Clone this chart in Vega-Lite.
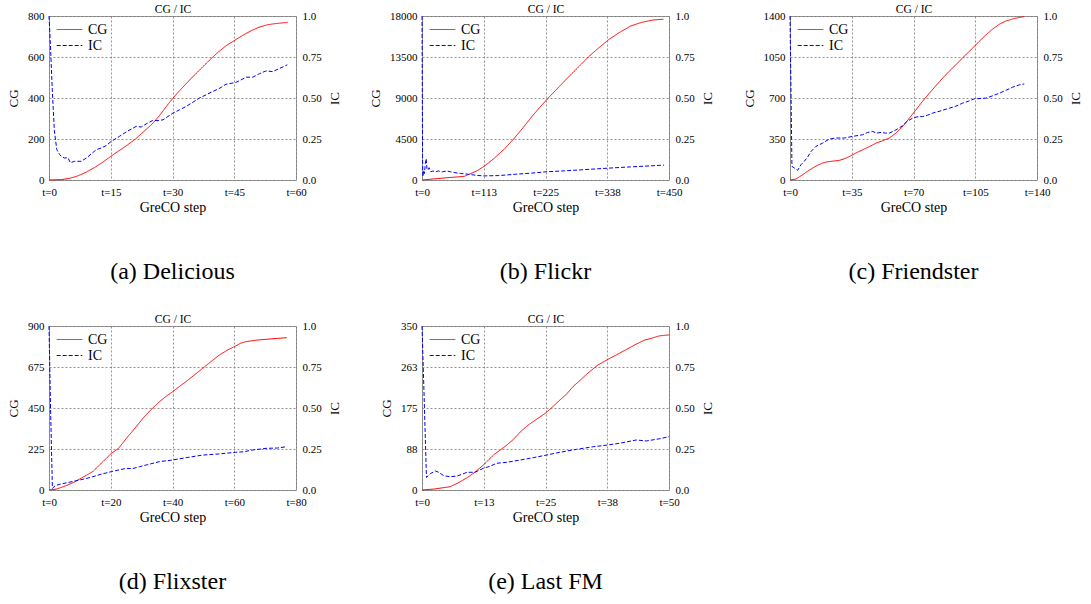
{
"$schema": "https://vega.github.io/schema/vega-lite/v6.json",
"padding": {"left": 7, "top": 2, "right": 2, "bottom": 2},
"background": "white",
"config": {
  "font": "Liberation Serif",
  "view": {"stroke": "#999999", "strokeWidth": 1},
  "axis": {"labelFont": "Liberation Serif", "titleFont": "Liberation Serif", "labelFontSize": 11, "titleFontSize": 13, "titleFontWeight": "normal", "labelColor": "#000000", "titleColor": "#000000", "ticks": false, "domain": false, "gridColor": "#777777", "gridDash": [2, 2], "gridWidth": 0.8, "labelFlush": false, "labelOverlap": false, "labelPadding": 5},
  "axisRight": {"titleAngle": 270, "titleBaseline": "top"},
  "title": {"font": "Liberation Serif", "fontSize": 24, "fontWeight": "normal", "color": "#000000", "orient": "bottom", "anchor": "middle", "offset": 46},
  "legend": {"title": null, "orient": "top-left", "offset": 5, "padding": 0, "symbolType": "M-1.6,0H1.6", "symbolSize": 256, "symbolOffset": 7, "symbolStrokeWidth": 1, "labelFont": "Liberation Serif", "labelFontSize": 14, "labelColor": "#000000", "labelOffset": 10, "rowPadding": 0}
},
"datasets": {
  "a": [
    {"t":0,"s":"CG","v":0},{"t":3,"s":"CG","v":2},{"t":5,"s":"CG","v":8},{"t":7,"s":"CG","v":20},{"t":9,"s":"CG","v":38},{"t":11,"s":"CG","v":60},{"t":13,"s":"CG","v":86},{"t":15,"s":"CG","v":115},{"t":17,"s":"CG","v":143},{"t":19,"s":"CG","v":170},{"t":21,"s":"CG","v":200},{"t":23,"s":"CG","v":236},{"t":25,"s":"CG","v":272},{"t":27,"s":"CG","v":318},{"t":29,"s":"CG","v":372},{"t":31,"s":"CG","v":420},{"t":33,"s":"CG","v":463},{"t":35,"s":"CG","v":505},{"t":37,"s":"CG","v":545},{"t":39,"s":"CG","v":585},{"t":41,"s":"CG","v":622},{"t":43,"s":"CG","v":655},{"t":45,"s":"CG","v":680},{"t":47,"s":"CG","v":705},{"t":49,"s":"CG","v":727},{"t":51,"s":"CG","v":745},{"t":53,"s":"CG","v":757},{"t":55,"s":"CG","v":763},{"t":57,"s":"CG","v":767},{"t":58,"s":"CG","v":769},
    {"t":0,"s":"IC","v":1.0},{"t":0.3,"s":"IC","v":0.85},{"t":0.8,"s":"IC","v":0.55},{"t":1.3,"s":"IC","v":0.3},{"t":1.9,"s":"IC","v":0.185},{"t":2.6,"s":"IC","v":0.154},{"t":3.2,"s":"IC","v":0.14},{"t":3.8,"s":"IC","v":0.134},{"t":4.6,"s":"IC","v":0.136},{"t":5.2,"s":"IC","v":0.105},{"t":6.2,"s":"IC","v":0.114},{"t":7.8,"s":"IC","v":0.114},{"t":9.1,"s":"IC","v":0.134},{"t":10.3,"s":"IC","v":0.16},{"t":11.5,"s":"IC","v":0.185},{"t":12.7,"s":"IC","v":0.195},{"t":13.9,"s":"IC","v":0.21},{"t":15.1,"s":"IC","v":0.235},{"t":17.1,"s":"IC","v":0.266},{"t":19.2,"s":"IC","v":0.3},{"t":21.2,"s":"IC","v":0.327},{"t":22.4,"s":"IC","v":0.323},{"t":23.8,"s":"IC","v":0.345},{"t":25.2,"s":"IC","v":0.363},{"t":26.5,"s":"IC","v":0.362},{"t":27.7,"s":"IC","v":0.367},{"t":30.1,"s":"IC","v":0.408},{"t":31.7,"s":"IC","v":0.428},{"t":33.3,"s":"IC","v":0.448},{"t":35,"s":"IC","v":0.475},{"t":36.5,"s":"IC","v":0.499},{"t":38.2,"s":"IC","v":0.52},{"t":39.8,"s":"IC","v":0.54},{"t":41.5,"s":"IC","v":0.56},{"t":43,"s":"IC","v":0.584},{"t":45.3,"s":"IC","v":0.594},{"t":46.6,"s":"IC","v":0.61},{"t":47.9,"s":"IC","v":0.627},{"t":49.5,"s":"IC","v":0.627},{"t":51.1,"s":"IC","v":0.648},{"t":52.7,"s":"IC","v":0.665},{"t":54.3,"s":"IC","v":0.661},{"t":56,"s":"IC","v":0.68},{"t":57.9,"s":"IC","v":0.702}
  ],
  "b": [
    {"t":0,"s":"CG","v":0},{"t":40,"s":"CG","v":220},{"t":77,"s":"CG","v":400},{"t":100,"s":"CG","v":1000},{"t":113,"s":"CG","v":1500},{"t":130,"s":"CG","v":2300},{"t":150,"s":"CG","v":3400},{"t":167,"s":"CG","v":4500},{"t":185,"s":"CG","v":5800},{"t":200,"s":"CG","v":6950},{"t":215,"s":"CG","v":8000},{"t":230,"s":"CG","v":9000},{"t":250,"s":"CG","v":10250},{"t":270,"s":"CG","v":11500},{"t":290,"s":"CG","v":12700},{"t":303,"s":"CG","v":13500},{"t":320,"s":"CG","v":14400},{"t":340,"s":"CG","v":15400},{"t":360,"s":"CG","v":16200},{"t":380,"s":"CG","v":16900},{"t":400,"s":"CG","v":17300},{"t":420,"s":"CG","v":17550},{"t":440,"s":"CG","v":17650},
    {"t":0,"s":"IC","v":1.0},{"t":0.5,"s":"IC","v":0.6},{"t":1,"s":"IC","v":0.15},{"t":1.5,"s":"IC","v":0.02},{"t":3,"s":"IC","v":0.06},{"t":4.5,"s":"IC","v":0.04},{"t":6,"s":"IC","v":0.1},{"t":7.5,"s":"IC","v":0.13},{"t":9,"s":"IC","v":0.07},{"t":11,"s":"IC","v":0.06},{"t":13,"s":"IC","v":0.075},{"t":16,"s":"IC","v":0.05},{"t":20,"s":"IC","v":0.055},{"t":25,"s":"IC","v":0.05},{"t":30,"s":"IC","v":0.055},{"t":37,"s":"IC","v":0.05},{"t":45,"s":"IC","v":0.055},{"t":52,"s":"IC","v":0.05},{"t":60,"s":"IC","v":0.045},{"t":70,"s":"IC","v":0.04},{"t":85,"s":"IC","v":0.035},{"t":100,"s":"IC","v":0.028},{"t":113,"s":"IC","v":0.025},{"t":140,"s":"IC","v":0.027},{"t":170,"s":"IC","v":0.035},{"t":200,"s":"IC","v":0.042},{"t":226,"s":"IC","v":0.05},{"t":260,"s":"IC","v":0.056},{"t":290,"s":"IC","v":0.062},{"t":338,"s":"IC","v":0.072},{"t":380,"s":"IC","v":0.08},{"t":410,"s":"IC","v":0.085},{"t":441,"s":"IC","v":0.091}
  ],
  "c": [
    {"t":0,"s":"CG","v":0},{"t":3.4,"s":"CG","v":8},{"t":7.2,"s":"CG","v":45},{"t":10,"s":"CG","v":75},{"t":12.8,"s":"CG","v":102},{"t":15.5,"s":"CG","v":125},{"t":18.5,"s":"CG","v":145},{"t":21,"s":"CG","v":155},{"t":23.2,"s":"CG","v":159},{"t":28,"s":"CG","v":168},{"t":31,"s":"CG","v":182},{"t":33.6,"s":"CG","v":200},{"t":37,"s":"CG","v":228},{"t":41.2,"s":"CG","v":258},{"t":45,"s":"CG","v":285},{"t":48.8,"s":"CG","v":315},{"t":52.5,"s":"CG","v":335},{"t":56.3,"s":"CG","v":358},{"t":60,"s":"CG","v":400},{"t":63.9,"s":"CG","v":457},{"t":67.5,"s":"CG","v":525},{"t":71.4,"s":"CG","v":599},{"t":75,"s":"CG","v":670},{"t":79,"s":"CG","v":741},{"t":83,"s":"CG","v":810},{"t":86.5,"s":"CG","v":869},{"t":90,"s":"CG","v":925},{"t":94,"s":"CG","v":983},{"t":98,"s":"CG","v":1045},{"t":103.5,"s":"CG","v":1125},{"t":107,"s":"CG","v":1180},{"t":111,"s":"CG","v":1238},{"t":115,"s":"CG","v":1290},{"t":118.6,"s":"CG","v":1329},{"t":122,"s":"CG","v":1355},{"t":126.2,"s":"CG","v":1375},{"t":130,"s":"CG","v":1388},{"t":132.8,"s":"CG","v":1395},
    {"t":0,"s":"IC","v":1.0},{"t":0.5,"s":"IC","v":0.6},{"t":1.1,"s":"IC","v":0.083},{"t":2.5,"s":"IC","v":0.073},{"t":4.3,"s":"IC","v":0.059},{"t":6.2,"s":"IC","v":0.093},{"t":8.1,"s":"IC","v":0.114},{"t":10,"s":"IC","v":0.14},{"t":11.9,"s":"IC","v":0.174},{"t":14.7,"s":"IC","v":0.205},{"t":18.5,"s":"IC","v":0.225},{"t":22.3,"s":"IC","v":0.25},{"t":26,"s":"IC","v":0.256},{"t":30.8,"s":"IC","v":0.256},{"t":35.5,"s":"IC","v":0.266},{"t":41.2,"s":"IC","v":0.276},{"t":44,"s":"IC","v":0.29},{"t":46.9,"s":"IC","v":0.296},{"t":49,"s":"IC","v":0.286},{"t":51.6,"s":"IC","v":0.29},{"t":54,"s":"IC","v":0.286},{"t":56.3,"s":"IC","v":0.286},{"t":60,"s":"IC","v":0.305},{"t":63.9,"s":"IC","v":0.331},{"t":66,"s":"IC","v":0.355},{"t":69.5,"s":"IC","v":0.377},{"t":72,"s":"IC","v":0.385},{"t":75.2,"s":"IC","v":0.387},{"t":78,"s":"IC","v":0.395},{"t":80.9,"s":"IC","v":0.408},{"t":85,"s":"IC","v":0.42},{"t":90.3,"s":"IC","v":0.438},{"t":94,"s":"IC","v":0.45},{"t":97.9,"s":"IC","v":0.469},{"t":101,"s":"IC","v":0.48},{"t":104.5,"s":"IC","v":0.495},{"t":111,"s":"IC","v":0.499},{"t":114,"s":"IC","v":0.51},{"t":118.6,"s":"IC","v":0.529},{"t":122,"s":"IC","v":0.545},{"t":126.2,"s":"IC","v":0.566},{"t":130,"s":"IC","v":0.58},{"t":132.8,"s":"IC","v":0.586}
  ],
  "d": [
    {"t":0,"s":"CG","v":0},{"t":2.4,"s":"CG","v":5},{"t":5.6,"s":"CG","v":24},{"t":8,"s":"CG","v":42},{"t":9.9,"s":"CG","v":60},{"t":12,"s":"CG","v":80},{"t":14.2,"s":"CG","v":101},{"t":17,"s":"CG","v":148},{"t":20.2,"s":"CG","v":201},{"t":22.5,"s":"CG","v":228},{"t":25,"s":"CG","v":282},{"t":27.5,"s":"CG","v":332},{"t":30.4,"s":"CG","v":393},{"t":33,"s":"CG","v":440},{"t":35.8,"s":"CG","v":485},{"t":38,"s":"CG","v":515},{"t":40.1,"s":"CG","v":540},{"t":42,"s":"CG","v":565},{"t":44.4,"s":"CG","v":595},{"t":47,"s":"CG","v":630},{"t":49.8,"s":"CG","v":668},{"t":52.5,"s":"CG","v":705},{"t":55.2,"s":"CG","v":741},{"t":58,"s":"CG","v":770},{"t":60.4,"s":"CG","v":790},{"t":62,"s":"CG","v":805},{"t":63.8,"s":"CG","v":814},{"t":67,"s":"CG","v":822},{"t":70.3,"s":"CG","v":827},{"t":74,"s":"CG","v":832},{"t":77,"s":"CG","v":836},
    {"t":0,"s":"IC","v":1.0},{"t":0.5,"s":"IC","v":0.5},{"t":1.1,"s":"IC","v":0.01},{"t":2,"s":"IC","v":0.026},{"t":3.5,"s":"IC","v":0.035},{"t":6,"s":"IC","v":0.045},{"t":9.9,"s":"IC","v":0.061},{"t":12,"s":"IC","v":0.07},{"t":14.2,"s":"IC","v":0.081},{"t":17,"s":"IC","v":0.097},{"t":20.2,"s":"IC","v":0.112},{"t":23,"s":"IC","v":0.124},{"t":25,"s":"IC","v":0.132},{"t":27,"s":"IC","v":0.13},{"t":29.3,"s":"IC","v":0.142},{"t":32,"s":"IC","v":0.155},{"t":35.8,"s":"IC","v":0.173},{"t":40.1,"s":"IC","v":0.183},{"t":44.4,"s":"IC","v":0.197},{"t":49.8,"s":"IC","v":0.213},{"t":55.2,"s":"IC","v":0.22},{"t":60.4,"s":"IC","v":0.23},{"t":63,"s":"IC","v":0.233},{"t":66,"s":"IC","v":0.244},{"t":70.3,"s":"IC","v":0.254},{"t":74,"s":"IC","v":0.256},{"t":77,"s":"IC","v":0.264}
  ],
  "e": [
    {"t":0,"s":"CG","v":0},{"t":2.4,"s":"CG","v":2},{"t":4.4,"s":"CG","v":5},{"t":5.7,"s":"CG","v":7},{"t":7.1,"s":"CG","v":14},{"t":9.1,"s":"CG","v":26},{"t":10.7,"s":"CG","v":38},{"t":12.4,"s":"CG","v":53},{"t":14.5,"s":"CG","v":75},{"t":15.8,"s":"CG","v":85},{"t":17.2,"s":"CG","v":96},{"t":18.5,"s":"CG","v":108},{"t":19.9,"s":"CG","v":124},{"t":21.2,"s":"CG","v":136},{"t":22.5,"s":"CG","v":146},{"t":25,"s":"CG","v":164},{"t":26.5,"s":"CG","v":178},{"t":27.9,"s":"CG","v":192},{"t":29.2,"s":"CG","v":204},{"t":30.6,"s":"CG","v":221},{"t":32,"s":"CG","v":234},{"t":33.3,"s":"CG","v":247},{"t":35.5,"s":"CG","v":266},{"t":37.5,"s":"CG","v":278},{"t":40,"s":"CG","v":292},{"t":42.1,"s":"CG","v":304},{"t":43.5,"s":"CG","v":312},{"t":45.1,"s":"CG","v":320},{"t":46.5,"s":"CG","v":324},{"t":48.1,"s":"CG","v":329},{"t":50,"s":"CG","v":331},
    {"t":0,"s":"IC","v":1.0},{"t":0.4,"s":"IC","v":0.6},{"t":0.9,"s":"IC","v":0.077},{"t":1.7,"s":"IC","v":0.1},{"t":2.7,"s":"IC","v":0.116},{"t":3.4,"s":"IC","v":0.108},{"t":4.4,"s":"IC","v":0.087},{"t":5.7,"s":"IC","v":0.081},{"t":7.1,"s":"IC","v":0.085},{"t":8.2,"s":"IC","v":0.097},{"t":9.1,"s":"IC","v":0.108},{"t":10.7,"s":"IC","v":0.108},{"t":12.4,"s":"IC","v":0.132},{"t":13.8,"s":"IC","v":0.145},{"t":15.1,"s":"IC","v":0.163},{"t":17.2,"s":"IC","v":0.169},{"t":19.9,"s":"IC","v":0.183},{"t":22.5,"s":"IC","v":0.197},{"t":25.2,"s":"IC","v":0.213},{"t":27.9,"s":"IC","v":0.23},{"t":31.3,"s":"IC","v":0.248},{"t":34.7,"s":"IC","v":0.264},{"t":37.5,"s":"IC","v":0.274},{"t":40,"s":"IC","v":0.285},{"t":43.4,"s":"IC","v":0.305},{"t":45.4,"s":"IC","v":0.299},{"t":48,"s":"IC","v":0.312},{"t":50,"s":"IC","v":0.325}
  ]
},
"columns": 3,
"spacing": {"row": 27, "column": 27},
"resolve": {"scale": {"color": "independent", "strokeDash": "independent"}},
"concat": [
  {
    "title": {"text": "(a) Delicious"},
    "width": 247, "height": 164,
    "data": {"name": "a"},
    "layer": [
      {"transform": [{"filter": "datum.s == 'CG'"}], "mark": {"type": "line", "strokeWidth": 1},
       "encoding": {
        "x": {"field": "t", "type": "quantitative", "scale": {"domain": [0, 60], "nice": false}, "axis": {"values": [0, 15, 30, 45, 60], "title": "GreCO step", "labelExpr": "'t=' + round(datum.value)", "grid": true, "titleFontSize": 14, "titlePadding": 3, "labelPadding": 6}},
        "y": {"field": "v", "type": "quantitative", "scale": {"domain": [0, 800], "nice": false}, "axis": {"values": [0, 200, 400, 600, 800], "title": "CG", "labelExpr": "'' + round(datum.value)", "grid": true, "titlePadding": 7}},
        "color": {"field": "s", "type": "nominal", "scale": {"domain": ["CG", "IC"], "range": ["#ff0000", "#0000ff"]}},
        "strokeDash": {"field": "s", "type": "nominal", "scale": {"domain": ["CG", "IC"], "range": [[1, 0], [4, 2]]}}
       }},
      {"transform": [{"filter": "datum.s == 'IC'"}], "mark": {"type": "line", "strokeWidth": 1},
       "encoding": {
        "x": {"field": "t", "type": "quantitative", "scale": {"domain": [0, 60], "nice": false}, "axis": {"orient": "top", "title": "CG / IC", "labels": false, "grid": false, "titleFontSize": 11.5, "titlePadding": 2}},
        "y": {"field": "v", "type": "quantitative", "scale": {"domain": [0, 1], "nice": false}, "axis": {"orient": "right", "values": [0, 0.25, 0.5, 0.75, 1], "title": "IC", "grid": false, "labelExpr": "datum.value == 0 ? '0.0' : datum.value == 1 ? '1.0' : format(datum.value, '.2f')", "titlePadding": 7, "labelPadding": 6}},
        "color": {"field": "s", "type": "nominal", "scale": {"domain": ["CG", "IC"], "range": ["#ff0000", "#0000ff"]}},
        "strokeDash": {"field": "s", "type": "nominal", "scale": {"domain": ["CG", "IC"], "range": [[1, 0], [4, 2]]}}
       }}
    ],
    "resolve": {"scale": {"x": "independent", "y": "independent"}}
  },
  {
    "title": {"text": "(b) Flickr"},
    "width": 247, "height": 164,
    "data": {"name": "b"},
    "layer": [
      {"transform": [{"filter": "datum.s == 'CG'"}], "mark": {"type": "line", "strokeWidth": 1},
       "encoding": {
        "x": {"field": "t", "type": "quantitative", "scale": {"domain": [0, 450], "nice": false}, "axis": {"values": [0, 112.5, 225, 337.5, 450], "title": "GreCO step", "labelExpr": "'t=' + round(datum.value)", "grid": true, "titleFontSize": 14, "titlePadding": 3, "labelPadding": 6}},
        "y": {"field": "v", "type": "quantitative", "scale": {"domain": [0, 18000], "nice": false}, "axis": {"values": [0, 4500, 9000, 13500, 18000], "title": "CG", "labelExpr": "'' + round(datum.value)", "grid": true, "titlePadding": 7}},
        "color": {"field": "s", "type": "nominal", "scale": {"domain": ["CG", "IC"], "range": ["#ff0000", "#0000ff"]}},
        "strokeDash": {"field": "s", "type": "nominal", "scale": {"domain": ["CG", "IC"], "range": [[1, 0], [4, 2]]}}
       }},
      {"transform": [{"filter": "datum.s == 'IC'"}], "mark": {"type": "line", "strokeWidth": 1},
       "encoding": {
        "x": {"field": "t", "type": "quantitative", "scale": {"domain": [0, 450], "nice": false}, "axis": {"orient": "top", "title": "CG / IC", "labels": false, "grid": false, "titleFontSize": 11.5, "titlePadding": 2}},
        "y": {"field": "v", "type": "quantitative", "scale": {"domain": [0, 1], "nice": false}, "axis": {"orient": "right", "values": [0, 0.25, 0.5, 0.75, 1], "title": "IC", "grid": false, "labelExpr": "datum.value == 0 ? '0.0' : datum.value == 1 ? '1.0' : format(datum.value, '.2f')", "titlePadding": 7, "labelPadding": 6}},
        "color": {"field": "s", "type": "nominal", "scale": {"domain": ["CG", "IC"], "range": ["#ff0000", "#0000ff"]}},
        "strokeDash": {"field": "s", "type": "nominal", "scale": {"domain": ["CG", "IC"], "range": [[1, 0], [4, 2]]}}
       }}
    ],
    "resolve": {"scale": {"x": "independent", "y": "independent"}}
  },
  {
    "title": {"text": "(c) Friendster"},
    "width": 247, "height": 164,
    "data": {"name": "c"},
    "layer": [
      {"transform": [{"filter": "datum.s == 'CG'"}], "mark": {"type": "line", "strokeWidth": 1},
       "encoding": {
        "x": {"field": "t", "type": "quantitative", "scale": {"domain": [0, 140], "nice": false}, "axis": {"values": [0, 35, 70, 105, 140], "title": "GreCO step", "labelExpr": "'t=' + round(datum.value)", "grid": true, "titleFontSize": 14, "titlePadding": 3, "labelPadding": 6}},
        "y": {"field": "v", "type": "quantitative", "scale": {"domain": [0, 1400], "nice": false}, "axis": {"values": [0, 350, 700, 1050, 1400], "title": "CG", "labelExpr": "'' + round(datum.value)", "grid": true, "titlePadding": 7}},
        "color": {"field": "s", "type": "nominal", "scale": {"domain": ["CG", "IC"], "range": ["#ff0000", "#0000ff"]}},
        "strokeDash": {"field": "s", "type": "nominal", "scale": {"domain": ["CG", "IC"], "range": [[1, 0], [4, 2]]}}
       }},
      {"transform": [{"filter": "datum.s == 'IC'"}], "mark": {"type": "line", "strokeWidth": 1},
       "encoding": {
        "x": {"field": "t", "type": "quantitative", "scale": {"domain": [0, 140], "nice": false}, "axis": {"orient": "top", "title": "CG / IC", "labels": false, "grid": false, "titleFontSize": 11.5, "titlePadding": 2}},
        "y": {"field": "v", "type": "quantitative", "scale": {"domain": [0, 1], "nice": false}, "axis": {"orient": "right", "values": [0, 0.25, 0.5, 0.75, 1], "title": "IC", "grid": false, "labelExpr": "datum.value == 0 ? '0.0' : datum.value == 1 ? '1.0' : format(datum.value, '.2f')", "titlePadding": 7, "labelPadding": 6}},
        "color": {"field": "s", "type": "nominal", "scale": {"domain": ["CG", "IC"], "range": ["#ff0000", "#0000ff"]}},
        "strokeDash": {"field": "s", "type": "nominal", "scale": {"domain": ["CG", "IC"], "range": [[1, 0], [4, 2]]}}
       }}
    ],
    "resolve": {"scale": {"x": "independent", "y": "independent"}}
  },
  {
    "title": {"text": "(d) Flixster"},
    "width": 247, "height": 164,
    "data": {"name": "d"},
    "layer": [
      {"transform": [{"filter": "datum.s == 'CG'"}], "mark": {"type": "line", "strokeWidth": 1},
       "encoding": {
        "x": {"field": "t", "type": "quantitative", "scale": {"domain": [0, 80], "nice": false}, "axis": {"values": [0, 20, 40, 60, 80], "title": "GreCO step", "labelExpr": "'t=' + round(datum.value)", "grid": true, "titleFontSize": 14, "titlePadding": 3, "labelPadding": 6}},
        "y": {"field": "v", "type": "quantitative", "scale": {"domain": [0, 900], "nice": false}, "axis": {"values": [0, 225, 450, 675, 900], "title": "CG", "labelExpr": "'' + round(datum.value)", "grid": true, "titlePadding": 7}},
        "color": {"field": "s", "type": "nominal", "scale": {"domain": ["CG", "IC"], "range": ["#ff0000", "#0000ff"]}},
        "strokeDash": {"field": "s", "type": "nominal", "scale": {"domain": ["CG", "IC"], "range": [[1, 0], [4, 2]]}}
       }},
      {"transform": [{"filter": "datum.s == 'IC'"}], "mark": {"type": "line", "strokeWidth": 1},
       "encoding": {
        "x": {"field": "t", "type": "quantitative", "scale": {"domain": [0, 80], "nice": false}, "axis": {"orient": "top", "title": "CG / IC", "labels": false, "grid": false, "titleFontSize": 11.5, "titlePadding": 2}},
        "y": {"field": "v", "type": "quantitative", "scale": {"domain": [0, 1], "nice": false}, "axis": {"orient": "right", "values": [0, 0.25, 0.5, 0.75, 1], "title": "IC", "grid": false, "labelExpr": "datum.value == 0 ? '0.0' : datum.value == 1 ? '1.0' : format(datum.value, '.2f')", "titlePadding": 7, "labelPadding": 6}},
        "color": {"field": "s", "type": "nominal", "scale": {"domain": ["CG", "IC"], "range": ["#ff0000", "#0000ff"]}},
        "strokeDash": {"field": "s", "type": "nominal", "scale": {"domain": ["CG", "IC"], "range": [[1, 0], [4, 2]]}}
       }}
    ],
    "resolve": {"scale": {"x": "independent", "y": "independent"}}
  },
  {
    "title": {"text": "(e) Last FM"},
    "width": 247, "height": 164,
    "data": {"name": "e"},
    "layer": [
      {"transform": [{"filter": "datum.s == 'CG'"}], "mark": {"type": "line", "strokeWidth": 1},
       "encoding": {
        "x": {"field": "t", "type": "quantitative", "scale": {"domain": [0, 50], "nice": false}, "axis": {"values": [0, 12.5, 25, 37.5, 50], "title": "GreCO step", "labelExpr": "'t=' + round(datum.value)", "grid": true, "titleFontSize": 14, "titlePadding": 3, "labelPadding": 6}},
        "y": {"field": "v", "type": "quantitative", "scale": {"domain": [0, 350], "nice": false}, "axis": {"values": [0, 87.5, 175, 262.5, 350], "title": "CG", "labelExpr": "'' + round(datum.value)", "grid": true, "titlePadding": 7}},
        "color": {"field": "s", "type": "nominal", "scale": {"domain": ["CG", "IC"], "range": ["#ff0000", "#0000ff"]}},
        "strokeDash": {"field": "s", "type": "nominal", "scale": {"domain": ["CG", "IC"], "range": [[1, 0], [4, 2]]}}
       }},
      {"transform": [{"filter": "datum.s == 'IC'"}], "mark": {"type": "line", "strokeWidth": 1},
       "encoding": {
        "x": {"field": "t", "type": "quantitative", "scale": {"domain": [0, 50], "nice": false}, "axis": {"orient": "top", "title": "CG / IC", "labels": false, "grid": false, "titleFontSize": 11.5, "titlePadding": 2}},
        "y": {"field": "v", "type": "quantitative", "scale": {"domain": [0, 1], "nice": false}, "axis": {"orient": "right", "values": [0, 0.25, 0.5, 0.75, 1], "title": "IC", "grid": false, "labelExpr": "datum.value == 0 ? '0.0' : datum.value == 1 ? '1.0' : format(datum.value, '.2f')", "titlePadding": 7, "labelPadding": 6}},
        "color": {"field": "s", "type": "nominal", "scale": {"domain": ["CG", "IC"], "range": ["#ff0000", "#0000ff"]}},
        "strokeDash": {"field": "s", "type": "nominal", "scale": {"domain": ["CG", "IC"], "range": [[1, 0], [4, 2]]}}
       }}
    ],
    "resolve": {"scale": {"x": "independent", "y": "independent"}}
  }
]
}
